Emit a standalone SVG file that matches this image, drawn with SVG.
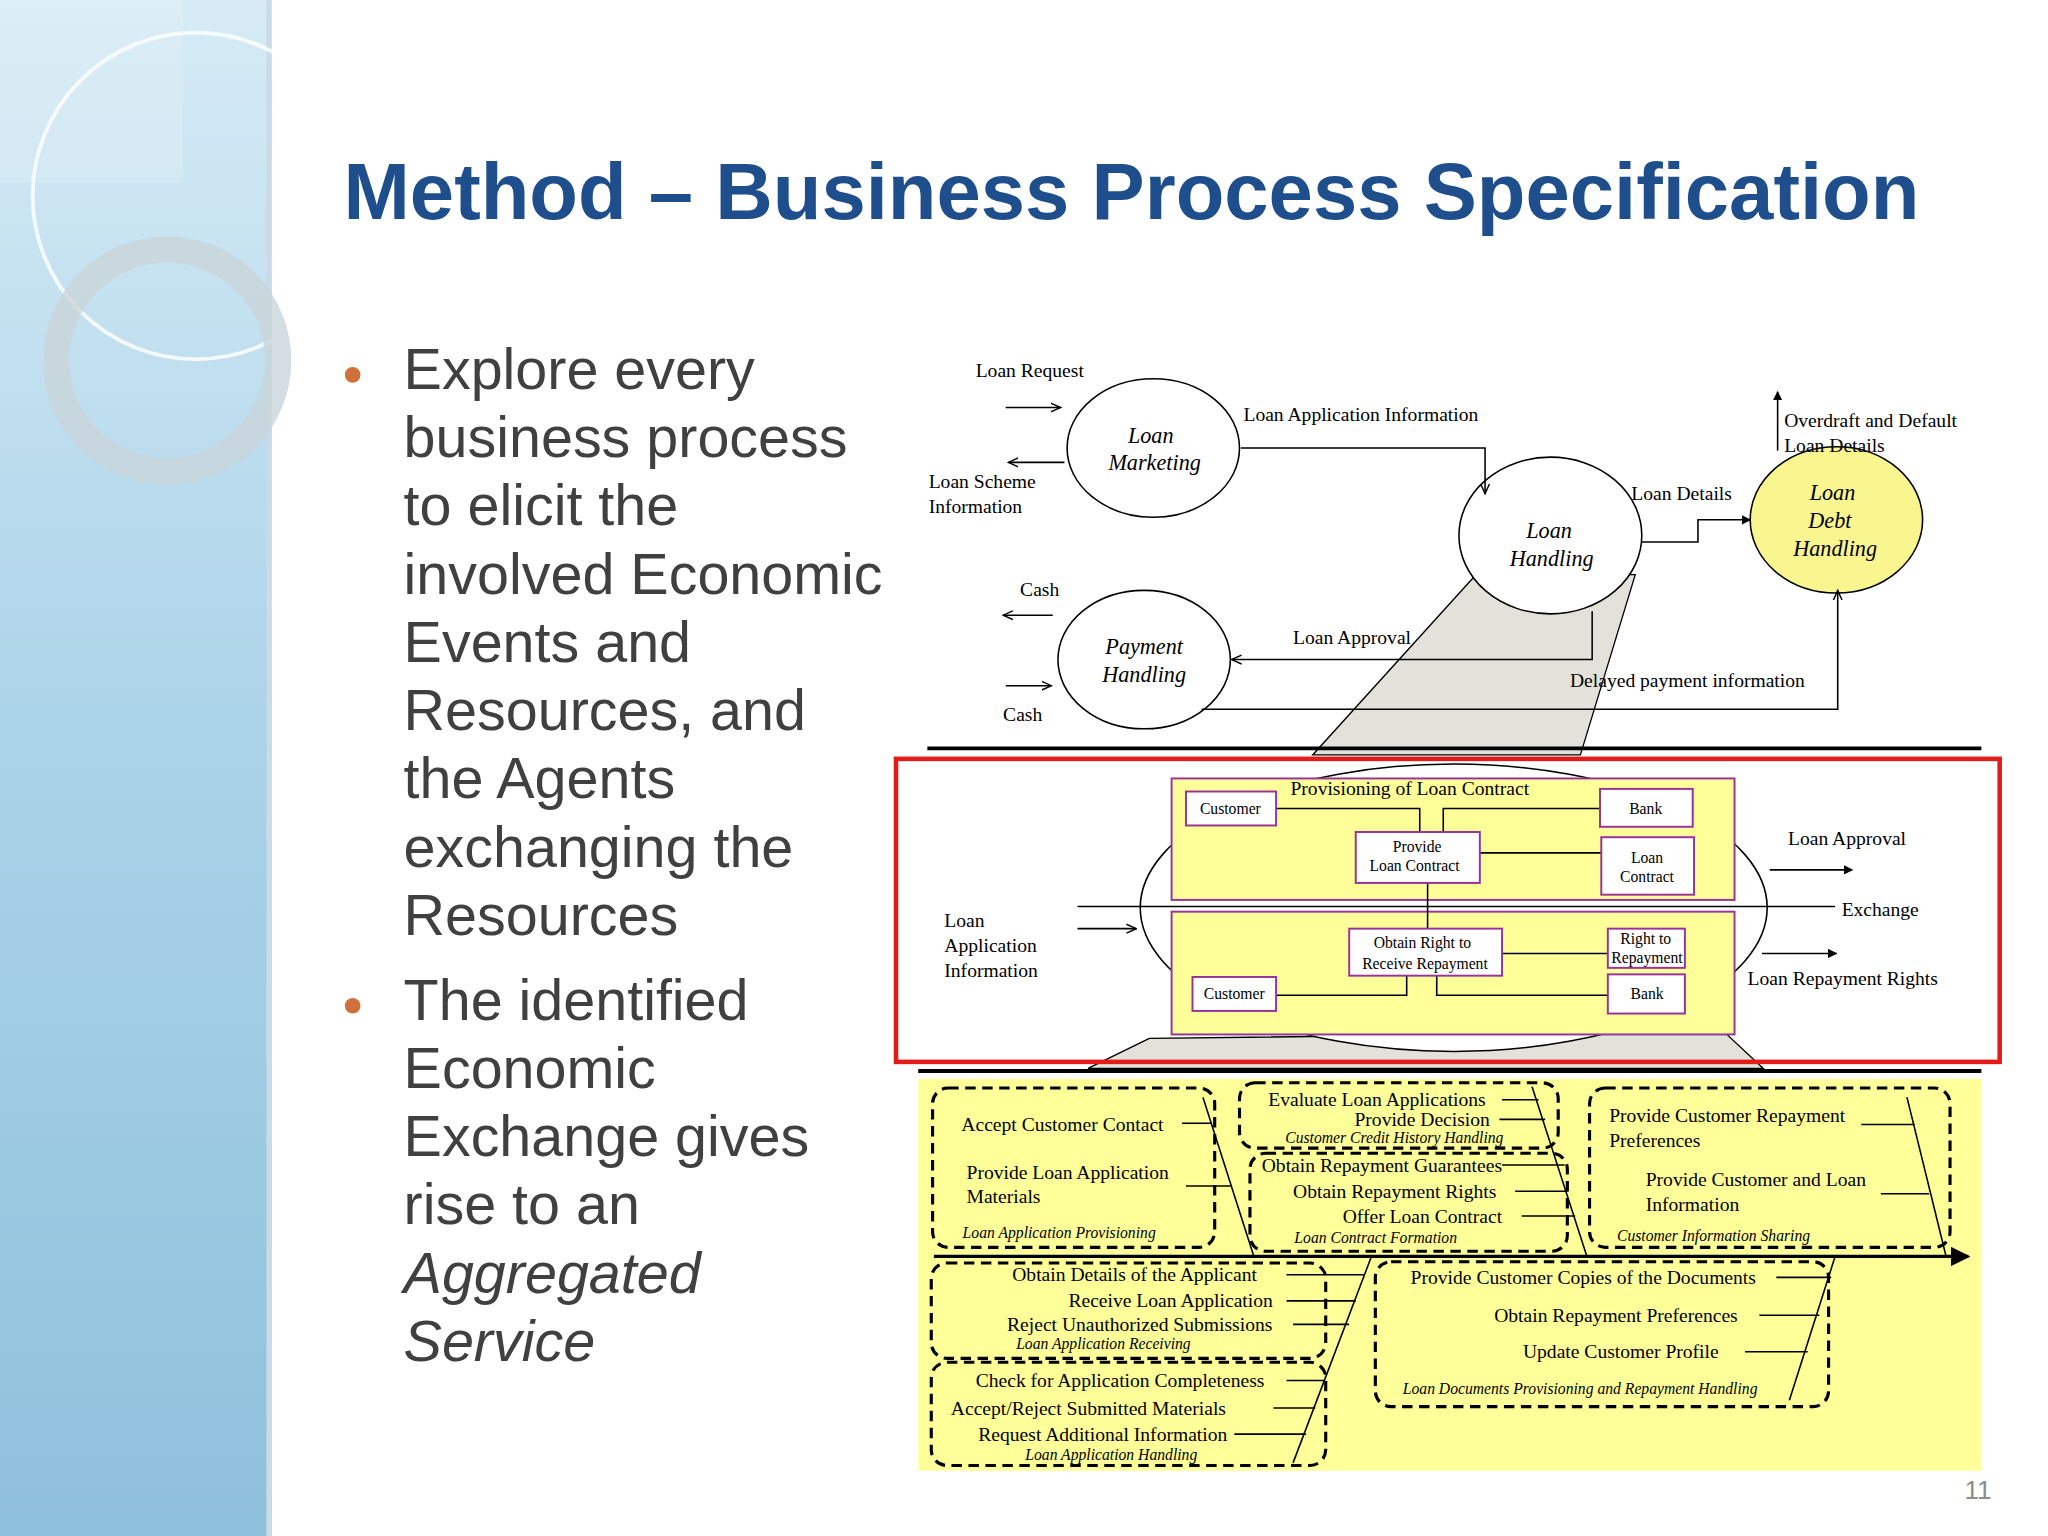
<svg xmlns="http://www.w3.org/2000/svg" width="2048" height="1536" viewBox="0 0 2048 1536">
<defs>
<linearGradient id="bg" x1="0" y1="0" x2="0" y2="1"><stop offset="0" stop-color="#d6ebf5"/><stop offset="0.5" stop-color="#a9d2e8"/><stop offset="1" stop-color="#8fc0dc"/></linearGradient>
<marker id="ah" viewBox="0 0 10 10" refX="9" refY="5" markerWidth="7" markerHeight="7" orient="auto"><path d="M0,1 L9,5 L0,9" fill="none" stroke="#000" stroke-width="1.3"/></marker>
<marker id="af" viewBox="0 0 10 10" refX="9" refY="5" markerWidth="6" markerHeight="6" orient="auto"><path d="M0,0 L10,5 L0,10 Z" fill="#000"/></marker>
<style>
.t{font-family:"Liberation Serif",serif;font-size:15px;fill:#000}
.it{font-family:"Liberation Serif",serif;font-style:italic;font-size:17px;fill:#000}
.sm{font-family:"Liberation Serif",serif;font-style:italic;font-size:12px;fill:#000}
.bx{font-family:"Liberation Serif",serif;font-size:12px;fill:#000}
.ln{stroke:#000;stroke-width:1.2;fill:none}
.dash{fill:none;stroke:#000;stroke-width:2.4;stroke-dasharray:8,5}
.yb{fill:#ffff99;stroke:#993399;stroke-width:1.5}
.wb{fill:#fff;stroke:#993399;stroke-width:1.5}
.bul{font-family:"Liberation Sans",Arial,sans-serif;font-size:44px;fill:#404040}
</style>
</defs>
<rect width="2048" height="1536" fill="#fff"/>
<g transform="scale(1.30612)">
<g id="sidebar">
<rect x="0" y="0" width="208" height="1176" fill="url(#bg)"/>
<rect x="204" y="0" width="4" height="1176" fill="#c8dbe6"/>
<circle cx="150" cy="150" r="125" fill="none" stroke="#fff" stroke-width="3" opacity="0.8"/>
<circle cx="128" cy="276" r="85" fill="none" stroke="#c9d4da" stroke-width="20" opacity="0.8"/>
<rect x="0" y="0" width="140" height="140" fill="#fff" opacity="0.15"/>
</g>
<text x="263" y="168" font-family="Liberation Sans,Arial,sans-serif" font-weight="bold" font-size="61" fill="#1f4e8c">Method – Business Process Specification</text>
<g id="bullets">
<circle cx="270" cy="287" r="6" fill="#d0703c"/>
<circle cx="270" cy="770" r="6" fill="#d0703c"/>
<text class="bul" x="309" y="298">Explore every</text>
<text class="bul" x="309" y="350">business process</text>
<text class="bul" x="309" y="402">to elicit the</text>
<text class="bul" x="309" y="455">involved Economic</text>
<text class="bul" x="309" y="507">Events and</text>
<text class="bul" x="309" y="559">Resources, and</text>
<text class="bul" x="309" y="611">the Agents</text>
<text class="bul" x="309" y="664">exchanging the</text>
<text class="bul" x="309" y="716">Resources</text>
<text class="bul" x="309" y="781">The identified</text>
<text class="bul" x="309" y="833">Economic</text>
<text class="bul" x="309" y="885">Exchange gives</text>
<text class="bul" x="309" y="937">rise to an</text>
<text class="bul" x="309" y="990" font-style="italic">Aggregated</text>
<text class="bul" x="309" y="1042" font-style="italic">Service</text>
</g>
<g id="funnel">
<polygon points="1130,440 1005,578 1210,578 1252,440" fill="#e2e2da" stroke="#000" stroke-width="1"/>
<polygon points="880,795 833,818 1350,818 1320,790" fill="#e2e2da" stroke="#000" stroke-width="1"/>
</g>
<g id="loan-marketing"><ellipse cx="883" cy="343" rx="66" ry="53" fill="#fff" stroke="#000" stroke-width="1.2"/><text class="it" x="881" y="339" text-anchor="middle">Loan</text><text class="it" x="884" y="360" text-anchor="middle">Marketing</text></g>
<g id="loan-handling"><ellipse cx="1187" cy="410" rx="70" ry="60" fill="#fff" stroke="#000" stroke-width="1.2"/><text class="it" x="1186" y="412" text-anchor="middle">Loan</text><text class="it" x="1188" y="433" text-anchor="middle">Handling</text></g>
<g id="loan-debt"><ellipse cx="1406" cy="398" rx="66" ry="56" fill="#f9f58f" stroke="#000" stroke-width="1.2"/><text class="it" x="1403" y="383" text-anchor="middle">Loan</text><text class="it" x="1401" y="404" text-anchor="middle">Debt</text><text class="it" x="1405" y="426" text-anchor="middle">Handling</text></g>
<g id="payment"><ellipse cx="876" cy="505" rx="66" ry="53" fill="#fff" stroke="#000" stroke-width="1.2"/><text class="it" x="876" y="501" text-anchor="middle">Payment</text><text class="it" x="876" y="522" text-anchor="middle">Handling</text></g>
<g id="connectors">
<line class="ln" x1="770" y1="312" x2="812" y2="312" marker-end="url(#ah)"/>
<line class="ln" x1="815" y1="354" x2="772" y2="354" marker-end="url(#ah)"/>
<polyline class="ln" points="950,343 1137,343 1137,378" marker-end="url(#ah)"/>
<polyline class="ln" points="1257,415 1300,415 1300,398 1340,398" stroke-width="1.8" marker-end="url(#af)"/>
<line class="ln" x1="1361" y1="345" x2="1361" y2="300" marker-end="url(#af)"/>
<line class="ln" x1="806" y1="471" x2="768" y2="471" marker-end="url(#ah)"/>
<line class="ln" x1="770" y1="525" x2="805" y2="525" marker-end="url(#ah)"/>
<polyline class="ln" points="1219,468 1219,505 943,505" marker-end="url(#ah)"/>
<polyline class="ln" points="920,543 1407,543 1407,452" marker-end="url(#ah)"/>
<line x1="710" y1="573" x2="1517" y2="573" stroke="#000" stroke-width="3"/>
<line x1="703" y1="820" x2="1517" y2="820" stroke="#000" stroke-width="3"/>
</g>
<g id="top-labels">
<text class="t" x="747" y="289">Loan Request</text>
<text class="t" x="711" y="374">Loan Scheme</text><text class="t" x="711" y="393">Information</text>
<text class="t" x="952" y="322">Loan Application Information</text>
<text class="t" x="1249" y="383">Loan Details</text>
<text class="t" x="1366" y="327">Overdraft and Default</text><text class="t" x="1366" y="346">Loan Details</text>
<text class="t" x="781" y="456">Cash</text><text class="t" x="768" y="552">Cash</text>
<text class="t" x="990" y="493">Loan Approval</text>
<text class="t" x="1202" y="526">Delayed payment information</text>
</g>
<g id="exchange">
<ellipse cx="1113" cy="695" rx="240" ry="110" fill="#fff" stroke="#000" stroke-width="1.2"/>
<rect class="yb" x="897" y="596" width="431" height="93"/>
<rect class="yb" x="897" y="698" width="431" height="94"/>
<line class="ln" x1="825" y1="694" x2="1405" y2="694"/>
<text class="t" x="988" y="609" font-size="14">Provisioning of Loan Contract</text>
<polyline class="ln" points="977,619 1087,619 1087,637"/>
<polyline class="ln" points="1225,619 1105,619 1105,637"/>
<line class="ln" x1="1133" y1="653" x2="1226" y2="653"/>
<line class="ln" x1="1093" y1="676" x2="1093" y2="711"/>
<line class="ln" x1="1150" y1="730" x2="1231" y2="730"/>
<polyline class="ln" points="1077,747 1077,762 977,762"/>
<polyline class="ln" points="1100,747 1100,762 1231,762"/>
<g id="cust1"><rect class="wb" x="908" y="606" width="69" height="26"/><text class="bx" x="942" y="623" text-anchor="middle">Customer</text></g>
<g id="bank1"><rect class="wb" x="1225" y="604" width="71" height="29"/><text class="bx" x="1260" y="623" text-anchor="middle">Bank</text></g>
<g id="provide"><rect class="wb" x="1038" y="637" width="95" height="39"/><text class="bx" x="1085" y="652" text-anchor="middle">Provide</text><text class="bx" x="1083" y="667" text-anchor="middle">Loan Contract</text></g>
<g id="loancontract"><rect class="wb" x="1226" y="641" width="71" height="44"/><text class="bx" x="1261" y="661" text-anchor="middle" font-size="11">Loan</text><text class="bx" x="1261" y="675" text-anchor="middle" font-size="11">Contract</text></g>
<g id="obtain"><rect class="wb" x="1033" y="711" width="117" height="36"/><text class="bx" x="1089" y="726" text-anchor="middle">Obtain Right to</text><text class="bx" x="1091" y="742" text-anchor="middle">Receive Repayment</text></g>
<g id="right"><rect class="wb" x="1231" y="711" width="59" height="30"/><text class="bx" x="1260" y="723" text-anchor="middle" font-size="11">Right to</text><text class="bx" x="1261" y="737" text-anchor="middle" font-size="11">Repayment</text></g>
<g id="cust2"><rect class="wb" x="913" y="748" width="64" height="26"/><text class="bx" x="945" y="765" text-anchor="middle">Customer</text></g>
<g id="bank2"><rect class="wb" x="1231" y="746" width="59" height="30"/><text class="bx" x="1261" y="765" text-anchor="middle">Bank</text></g>
<line class="ln" x1="825" y1="711" x2="870" y2="711" marker-end="url(#ah)"/>
<line class="ln" x1="1355" y1="666" x2="1418" y2="666" marker-end="url(#af)"/>
<line class="ln" x1="1349" y1="730" x2="1406" y2="730" marker-end="url(#af)"/>
<text class="t" x="723" y="710">Loan</text><text class="t" x="723" y="729">Application</text><text class="t" x="723" y="748">Information</text>
<text class="t" x="1369" y="647">Loan Approval</text>
<text class="t" x="1410" y="701">Exchange</text>
<text class="t" x="1338" y="754">Loan Repayment Rights</text>
<rect x="686" y="581" width="845" height="232" fill="none" stroke="#e31b1b" stroke-width="3.5"/>
</g>
<g id="fishbone">
<rect x="703" y="826" width="814" height="300" fill="#ffff99"/>
<line x1="715" y1="962" x2="1507" y2="962" stroke="#000" stroke-width="2.5" marker-end="url(#af)"/>
<rect class="dash" x="714" y="833" width="216" height="122" rx="12"/>
<rect class="dash" x="949" y="829" width="244" height="50" rx="12"/>
<rect class="dash" x="957" y="883" width="243" height="75" rx="12"/>
<rect class="dash" x="1217" y="833" width="276" height="122" rx="12"/>
<rect class="dash" x="713" y="967" width="302" height="73" rx="12"/>
<rect class="dash" x="713" y="1043" width="302" height="79" rx="12"/>
<rect class="dash" x="1053" y="966" width="347" height="111" rx="12"/>
<line class="ln" x1="921" y1="840" x2="960" y2="962"/>
<line class="ln" x1="1173" y1="832" x2="1215" y2="962"/>
<line class="ln" x1="1460" y1="840" x2="1490" y2="962"/>
<line class="ln" x1="1050" y1="962" x2="990" y2="1120"/>
<line class="ln" x1="1405" y1="962" x2="1370" y2="1072"/>
<g class="ticks" stroke="#000" stroke-width="1.2">
<line x1="905" y1="860" x2="928" y2="860"/><line x1="908" y1="908" x2="943" y2="908"/>
<line x1="1150" y1="842" x2="1178" y2="842"/><line x1="1148" y1="857" x2="1183" y2="857"/>
<line x1="1150" y1="892" x2="1198" y2="892"/><line x1="1160" y1="912" x2="1200" y2="912"/><line x1="1165" y1="931" x2="1206" y2="931"/>
<line x1="1425" y1="861" x2="1466" y2="861"/><line x1="1440" y1="914" x2="1477" y2="914"/>
<line x1="985" y1="976" x2="1045" y2="976"/><line x1="985" y1="996" x2="1038" y2="996"/><line x1="990" y1="1014" x2="1033" y2="1014"/>
<line x1="985" y1="1057" x2="1014" y2="1057"/><line x1="975" y1="1078" x2="1007" y2="1078"/><line x1="945" y1="1098" x2="1000" y2="1098"/>
<line x1="1360" y1="978" x2="1402" y2="978"/><line x1="1347" y1="1007" x2="1393" y2="1007"/><line x1="1336" y1="1035" x2="1384" y2="1035"/>
</g>
<text class="t" x="736" y="866" font-size="14">Accept Customer Contact</text>
<text class="t" x="740" y="903" font-size="14">Provide Loan Application</text><text class="t" x="740" y="921" font-size="14">Materials</text>
<text class="sm" x="737" y="948">Loan Application Provisioning</text>
<text class="t" x="971" y="847" font-size="14">Evaluate Loan Applications</text><text class="t" x="1037" y="862" font-size="14">Provide Decision</text>
<text class="sm" x="984" y="875">Customer Credit History Handling</text>
<text class="t" x="966" y="897" font-size="14">Obtain Repayment Guarantees</text><text class="t" x="990" y="917" font-size="14">Obtain Repayment Rights</text><text class="t" x="1028" y="936" font-size="14">Offer Loan Contract</text>
<text class="sm" x="991" y="952">Loan Contract Formation</text>
<text class="t" x="1232" y="859" font-size="14">Provide Customer Repayment</text><text class="t" x="1232" y="878" font-size="14">Preferences</text>
<text class="t" x="1260" y="908" font-size="14">Provide Customer and Loan</text><text class="t" x="1260" y="927" font-size="14">Information</text>
<text class="sm" x="1238" y="950">Customer Information Sharing</text>
<text class="t" x="775" y="981" font-size="14">Obtain Details of the Applicant</text><text class="t" x="818" y="1001" font-size="14">Receive Loan Application</text><text class="t" x="771" y="1019" font-size="14">Reject Unauthorized Submissions</text>
<text class="sm" x="778" y="1033">Loan Application Receiving</text>
<text class="t" x="747" y="1062" font-size="14">Check for Application Completeness</text><text class="t" x="728" y="1083" font-size="14">Accept/Reject Submitted Materials</text><text class="t" x="749" y="1103" font-size="14">Request Additional Information</text>
<text class="sm" x="785" y="1118">Loan Application Handling</text>
<text class="t" x="1080" y="983" font-size="14">Provide Customer Copies of the Documents</text><text class="t" x="1144" y="1012" font-size="14">Obtain Repayment Preferences</text><text class="t" x="1166" y="1040" font-size="14">Update Customer Profile</text>
<text class="sm" x="1074" y="1067">Loan Documents Provisioning and Repayment Handling</text>
</g>
<text x="1504" y="1148" font-family="Liberation Sans,Arial,sans-serif" font-size="20" fill="#8c8c8c">11</text>
</g>
</svg>
